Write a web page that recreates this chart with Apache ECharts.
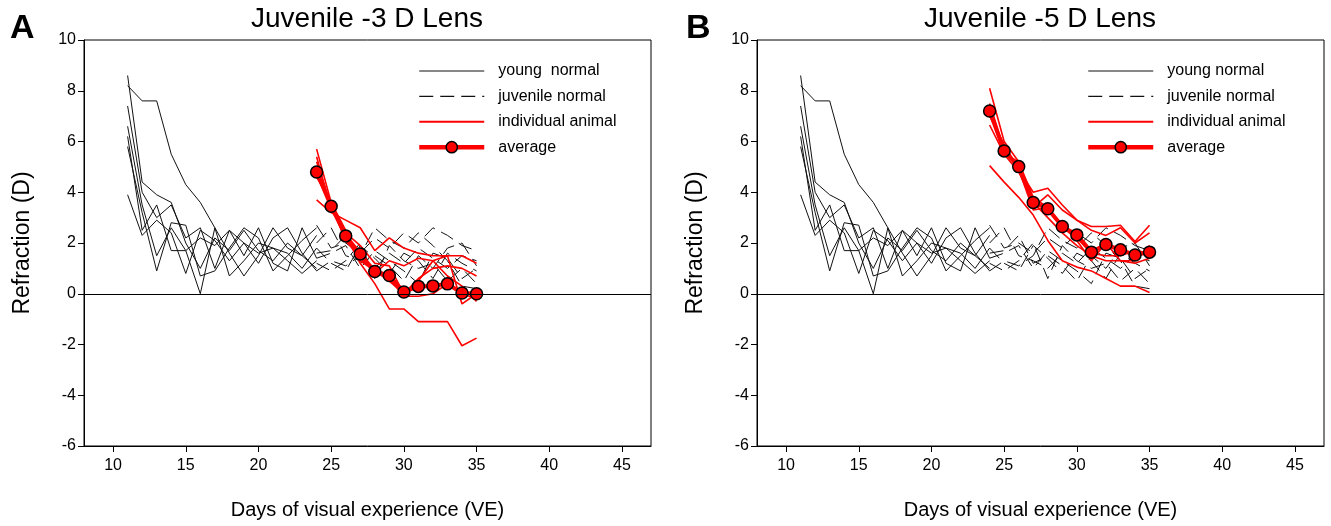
<!DOCTYPE html>
<html>
<head>
<meta charset="utf-8">
<script src="https://cdn.jsdelivr.net/npm/echarts@6/dist/echarts.min.js"></script>
<style>
html,body{margin:0;padding:0;background:#fff;}
#chart{width:1331px;height:526px;}
</style>
</head>
<body>
<div id="chart"></div>
<script>
// ---- data ----
const xTicks = [10, 15, 20, 25, 30, 35, 40, 45];
const youngDays = [11, 12, 13, 14, 15, 16, 17, 18, 19, 20, 21, 22, 23, 24];
const youngNormal1 = [8.6, 4.4, 3.9, 3.6, 2.0, 1.0, 2.2, 1.7, 2.5, 1.7, 1.3, 2.0, 1.5, 1.0];
const youngNormal2 = [8.2, 7.6, 7.6, 5.5, 4.3, 3.6, 2.6, 1.6, 0.7, 1.5, 2.6, 1.8, 1.5, 2.3];
const youngNormal3 = [7.4, 4.0, 3.0, 3.5, 2.2, 2.6, 1.0, 2.5, 1.5, 2.6, 1.2, 0.9, 2.6, 1.4];
const youngNormal4 = [6.6, 3.5, 1.5, 2.6, 1.7, 0.0, 2.6, 0.7, 1.3, 2.0, 1.8, 1.6, 1.0, 1.8];
const youngNormal5 = [6.2, 2.5, 3.5, 1.7, 1.7, 2.2, 1.9, 2.5, 2.0, 1.2, 2.2, 2.6, 1.6, 0.9];
const youngNormal6 = [5.8, 3.2, 0.9, 2.8, 2.7, 0.7, 0.9, 1.8, 2.6, 2.2, 0.9, 1.5, 2.1, 2.6];
const youngNormal7 = [3.9, 2.3, 2.9, 2.4, 0.8, 2.5, 2.1, 1.3, 2.0, 1.6, 1.8, 1.3, 0.8, 1.3];

const lensDays = [24, 25, 26, 27, 28, 29, 30, 31, 32, 33, 34, 35];
const juvenileNormal1 = [2.7, 1.8, 2.0, 1.6, 2.2, 1.8, 2.4, 2.0, 2.6, 2.3, 1.9, 1.7];
const juvenileNormal2 = [2.0, 2.6, 1.5, 1.3, 1.0, 1.6, 1.2, 1.8, 1.4, 1.0, 1.5, 1.3];
const juvenileNormal3 = [1.8, 1.2, 0.9, 1.9, 1.4, 0.8, 1.6, 1.3, 0.6, 1.6, 1.2, 0.9];
const juvenileNormal4 = [1.4, 1.6, 1.9, 1.0, 1.7, 1.3, 0.9, 0.4, 1.6, 1.4, 0.6, 1.0];
const juvenileNormal5 = [1.2, 0.9, 1.3, 2.0, 0.6, 1.9, 1.3, 1.0, 1.2, 0.5, 1.0, 0.4];
const juvenileNormal6 = [1.6, 1.7, 2.3, 1.2, 1.5, 1.1, 0.5, 1.5, 1.0, 1.8, 2.0, 1.1];
const juvenileNormal7 = [0.9, 1.3, 1.1, 1.5, 2.6, 2.1, 1.8, 2.4, 1.9, 1.3, 0.3, 0.2];

const minus3Animal1 = [5.7, 3.6, 2.3, 1.2, 0.4, -0.6, -0.6, -1.1, -1.1, -1.1, -2.05, -1.75];
const minus3Animal2 = [3.7, 3.2, 2.9, 2.6, 1.7, 2.2, 1.8, 1.6, 1.5, 1.5, 1.5, 1.2];
const minus3Animal3 = [5.2, 3.5, 2.1, 1.5, 0.8, 1.3, 1.1, 1.4, 1.3, 0.7, 0.3, -0.3];
const minus3Animal4 = [5.4, 3.3, 2.4, 1.9, 1.2, 1.1, 0.0, 0.6, 1.0, 1.1, 1.0, 0.7];
const minus3Animal5 = [4.6, 3.6, 2.5, 1.3, 0.9, 0.6, -0.1, -0.1, 0.0, 0.4, 0.0, -0.2];
const minus3Animal6 = [4.9, 3.5, 2.1, 1.4, 0.9, 0.5, 0.0, 0.5, 1.3, 1.5, -0.4, 0.0];
const minus3Average = [4.8, 3.45, 2.28, 1.57, 0.88, 0.72, 0.07, 0.29, 0.31, 0.39, 0.03, 0.0];

const minus5Animal1 = [8.1, 6.0, 5.2, 3.8, 3.4, 2.7, 2.1, 1.3, 2.0, 1.3, 1.2, 1.4];
const minus5Animal2 = [6.65, 5.5, 4.8, 3.6, 3.0, 2.4, 1.9, 1.5, 1.3, 1.3, 1.3, 1.9];
const minus5Animal3 = [7.5, 5.7, 4.9, 4.0, 4.16, 3.5, 2.9, 2.65, 2.65, 2.7, 2.06, 2.7];
const minus5Animal4 = [7.2, 5.5, 5.2, 3.4, 3.9, 3.3, 2.9, 2.5, 2.3, 2.6, 2.0, 2.4];
const minus5Animal5 = [7.0, 5.9, 4.9, 3.3, 3.4, 2.6, 2.2, 1.6, 1.5, 1.5, 1.7, 1.6];
const minus5Animal6 = [5.05, 4.4, 3.8, 3.1, 2.1, 1.3, 1.05, 0.9, 0.6, 0.3, 0.3, 0.05];
const minus5Average = [7.2, 5.63, 5.01, 3.6, 3.35, 2.65, 2.32, 1.64, 1.94, 1.73, 1.53, 1.64];

// ---- build ----
const youngSets = [youngNormal1, youngNormal2, youngNormal3, youngNormal4, youngNormal5, youngNormal6, youngNormal7];
const juvSets = [juvenileNormal1, juvenileNormal2, juvenileNormal3, juvenileNormal4, juvenileNormal5, juvenileNormal6, juvenileNormal7];
const panels = [
  { animals: [minus3Animal1, minus3Animal2, minus3Animal3, minus3Animal4, minus3Animal5, minus3Animal6], avg: minus3Average, youngName: 'young  normal' },
  { animals: [minus5Animal1, minus5Animal2, minus5Animal3, minus5Animal4, minus5Animal5, minus5Animal6], avg: minus5Average, youngName: 'young normal' }
];
const pair = (xs, ys) => xs.map((x, i) => [x, ys[i]]);

const series = [];
panels.forEach((p, gi) => {
  youngSets.forEach(v => series.push({
    name: p.youngName, type: 'line', xAxisIndex: gi, yAxisIndex: gi,
    data: pair(youngDays, v), showSymbol: false, symbol: 'none', silent: true,
    lineStyle: { color: '#111', width: 1 }, itemStyle: { color: '#111' }, z: 2
  }));
  juvSets.forEach(v => series.push({
    name: 'juvenile normal', type: 'line', xAxisIndex: gi, yAxisIndex: gi,
    data: pair(lensDays, v), showSymbol: false, symbol: 'none', silent: true,
    lineStyle: { color: '#111', width: 1, type: [14, 7] }, itemStyle: { color: '#111' }, z: 2
  }));
  p.animals.forEach(v => series.push({
    name: 'individual animal', type: 'line', xAxisIndex: gi, yAxisIndex: gi,
    data: pair(lensDays, v), showSymbol: false, symbol: 'none', silent: true,
    lineStyle: { color: '#ff0000', width: 1.6 }, itemStyle: { color: '#ff0000' }, z: 3
  }));
  series.push({
    name: 'average', type: 'line', xAxisIndex: gi, yAxisIndex: gi,
    data: pair(lensDays, p.avg), symbol: 'circle', symbolSize: 12, showSymbol: true, silent: true,
    lineStyle: { color: '#ff0000', width: 4 },
    itemStyle: { color: '#ff0000', borderColor: '#000', borderWidth: 1.5 }, z: 4,
    markLine: { silent: true, symbol: 'none', label: { show: false },
      lineStyle: { color: '#000', width: 1, type: 'solid' }, data: [{ yAxis: 0 }] }
  });
});

const grids = [
  { left: 84, right: 1331 - 651, top: 40, bottom: 80 },
  { left: 757, right: 1331 - 1324, top: 40, bottom: 80 }
];
const font = 'Liberation Sans, Arial, sans-serif';
const xAxes = grids.map((g, i) => ({
  type: 'value', gridIndex: i, min: 8, max: 47,
  name: 'Days of visual experience (VE)', nameLocation: 'middle', nameGap: 54,
  nameTextStyle: { fontFamily: font, fontSize: 20, color: '#000' },
  axisLine: { show: true, onZero: false, lineStyle: { color: '#000', width: 1 } },
  axisTick: { show: true, length: 6, customValues: xTicks, lineStyle: { color: '#000' } },
  axisLabel: { customValues: xTicks, margin: 12, fontFamily: font, fontSize: 16, color: '#000' },
  splitLine: { show: false }
}));
const yAxes = grids.map((g, i) => ({
  type: 'value', gridIndex: i, min: -6, max: 10, interval: 2,
  name: 'Refraction (D)', nameLocation: 'middle', nameGap: 50,
  nameTextStyle: { fontFamily: font, fontSize: 23, color: '#000' },
  axisLine: { show: true, lineStyle: { color: '#000', width: 1 } },
  axisTick: { show: true, length: 6, lineStyle: { color: '#000' } },
  axisLabel: { margin: 8, fontFamily: font, fontSize: 16, color: '#000' },
  splitLine: { show: false }
}));

const hidden = { color: 'rgba(0,0,0,0)', borderColor: 'rgba(0,0,0,0)', borderWidth: 0 };
function legendData(youngName) {
  return [
    { name: youngName, itemStyle: hidden, lineStyle: { width: 1.2 } },
    { name: 'juvenile normal', itemStyle: hidden, lineStyle: { width: 1.2 } },
    { name: 'individual animal', itemStyle: hidden, lineStyle: { width: 2 } },
    { name: 'average', lineStyle: { width: 4.5 }, itemStyle: { color: '#ff0000', borderColor: '#000', borderWidth: 1.5 } }
  ];
}
const legendCommon = {
  orient: 'vertical', itemWidth: 65, itemHeight: 14, itemGap: 9.4,
  textStyle: { fontFamily: font, fontSize: 16, color: '#000', padding: [0, 0, 0, 9] },
  selectedMode: false, top: 58
};

const chart = echarts.init(document.getElementById('chart'), null, { renderer: 'canvas' });
chart.setOption({
  animation: false,
  backgroundColor: '#fff',
  grid: grids.map(g => Object.assign({ show: true, borderColor: '#000', borderWidth: 1, backgroundColor: 'transparent' }, g)),
  xAxis: xAxes,
  yAxis: yAxes,
  legend: [
    Object.assign({ left: 412, data: legendData('young  normal') }, legendCommon),
    Object.assign({ left: 1081, data: legendData('young normal') }, legendCommon)
  ],
  graphic: [
    { type: 'text', x: 367, y: 5, style: { text: 'Juvenile -3 D Lens', font: '28px ' + font, fill: '#000', textAlign: 'center', textVerticalAlign: 'top' } },
    { type: 'text', x: 1040, y: 5, style: { text: 'Juvenile -5 D Lens', font: '28px ' + font, fill: '#000', textAlign: 'center', textVerticalAlign: 'top' } },
    { type: 'text', x: 10, y: 12, style: { text: 'A', font: 'bold 34px ' + font, fill: '#000', textVerticalAlign: 'top' } },
    { type: 'text', x: 686, y: 12, style: { text: 'B', font: 'bold 34px ' + font, fill: '#000', textVerticalAlign: 'top' } }
  ],
  series: series
});
</script>
</body>
</html>
